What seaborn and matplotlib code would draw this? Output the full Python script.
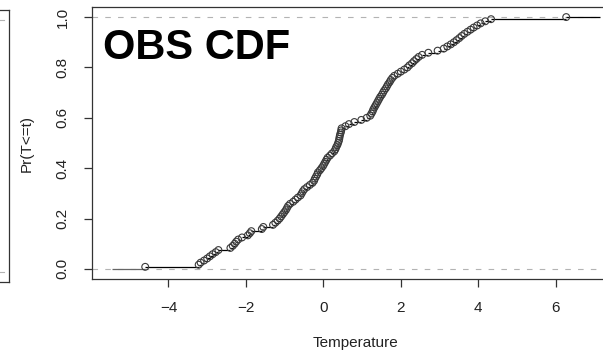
import numpy as np
import pandas as pd
import matplotlib
matplotlib.use("Agg")
import matplotlib.pyplot as plt
import seaborn as sns

# Observed temperatures (sorted sample used for the empirical CDF)
temperature = [
    -4.60, -3.22, -3.17, -3.08, -3.00, -2.93, -2.86, -2.78, -2.71, -2.40,
    -2.34, -2.29, -2.25, -2.20, -2.10, -1.95, -1.90, -1.86, -1.59, -1.55,
    -1.30, -1.24, -1.18, -1.13, -1.09, -1.05, -1.01, -0.97, -0.94, -0.91,
    -0.86, -0.78, -0.72, -0.66, -0.59, -0.56, -0.53, -0.49, -0.42, -0.35,
    -0.28, -0.24, -0.22, -0.19, -0.16, -0.14, -0.09, -0.05, -0.01, 0.02,
    0.05, 0.08, 0.11, 0.17, 0.22, 0.28, 0.31, 0.33, 0.36, 0.38,
    0.40, 0.41, 0.42, 0.43, 0.45, 0.46, 0.47, 0.57, 0.66, 0.80,
    0.98, 1.12, 1.21, 1.24, 1.27, 1.29, 1.32, 1.35, 1.38, 1.41,
    1.44, 1.47, 1.51, 1.54, 1.57, 1.61, 1.64, 1.67, 1.71, 1.74,
    1.78, 1.83, 1.92, 2.00, 2.09, 2.17, 2.22, 2.29, 2.34, 2.40,
    2.46, 2.55, 2.71, 2.95, 3.11, 3.20, 3.29, 3.37, 3.44, 3.51,
    3.57, 3.64, 3.72, 3.80, 3.88, 3.97, 4.06, 4.18, 4.33, 6.27,
]
x_ticks = [-4, -2, 0, 2, 4, 6]
y_ticks = [0.0, 0.2, 0.4, 0.6, 0.8, 1.0]
y_tick_labels = ["0.0", "0.2", "0.4", "0.6", "0.8", "1.0"]

sns.set_style("ticks")
plt.rcParams["font.family"] = ["Liberation Sans", "DejaVu Sans"]
plt.rcParams["text.color"] = "#222222"
plt.rcParams["axes.labelcolor"] = "#222222"
plt.rcParams["xtick.color"] = "#222222"
plt.rcParams["ytick.color"] = "#222222"

x = np.sort(np.asarray(temperature))
n = len(x)
F = np.arange(1, n + 1) / n
df = pd.DataFrame({"Temperature": x, "F": F})

# step-function limits the way R's plot.stepfun chooses them
dr = max(0.08 * (x[-1] - x[0]), np.median(np.diff(x)))
xl = (x[0] - dr, x[-1] + dr)
ext = 0.04 * (xl[1] - xl[0])
xlim = (xl[0] - ext, xl[1] + ext)

W, H = 603, 356
fig = plt.figure(figsize=(W / 100, H / 100), dpi=100)
fig.patch.set_facecolor("white")

px_per_unit = 38.73
ax_w = (xlim[1] - xlim[0]) * px_per_unit
ax = fig.add_axes([92 / W, 77 / H, ax_w / W, 272 / H])

# neighbouring panel, only its right edge shows
ax0 = fig.add_axes([-400 / W, 74 / H, 408.7 / W, 272 / H])

dash = (0, (5, 6.5))
for a in (ax, ax0):
    a.set_ylim(-0.04, 1.04)
    a.axhline(0, color="#b3b3b3", lw=0.8, ls=dash, zorder=1)
    a.axhline(1, color="#b3b3b3", lw=0.8, ls=dash, zorder=1)
    for s in a.spines.values():
        s.set_visible(True)
        s.set_color("#333333")
        s.set_linewidth(0.9)
ax0.set_xticks([])
ax0.set_yticks([])

ax.set_xlim(*xlim)

# horizontal steps of the ECDF
left = np.concatenate([[xl[0]], x])
right = np.concatenate([x, [xl[1]]])
level = np.concatenate([[0.0], F])
ax.hlines(level[1:], left[1:], right[1:], color="black", lw=0.9, zorder=2)
ax.hlines(level[:1], left[:1], right[:1], color="#666666", lw=0.9, zorder=2)

sns.scatterplot(data=df, x="Temperature", y="F", ax=ax, marker="o",
                s=24, facecolor="none", edgecolor="#3a3a3a", linewidth=0.8,
                zorder=3, legend=False)

ax.set_xticks(x_ticks)
ax.set_xticklabels([f"\u2212{abs(t)}" if t < 0 else str(t) for t in x_ticks])
ax.set_yticks(y_ticks)
ax.set_yticklabels(y_tick_labels, rotation=90, va="center")
ax.tick_params(axis="both", direction="out", length=6, width=0.9,
               labelsize=11, color="#333333")
ax.tick_params(axis="x", pad=10)
ax.tick_params(axis="y", pad=10)

ax.set_xlabel("Temperature", fontsize=11, labelpad=15)
ax.set_ylabel("")
fig.text(27 / W, 1 - 143 / H, "Pr(T<=t)", rotation=90, fontsize=11,
         ha="center", va="center")

fig.text(103 / W, 1 - 48 / H, "OBS CDF", fontsize=30, fontweight="bold",
         color="black", ha="left", va="center")

fig.savefig("out.png", dpi=100, facecolor="white")
